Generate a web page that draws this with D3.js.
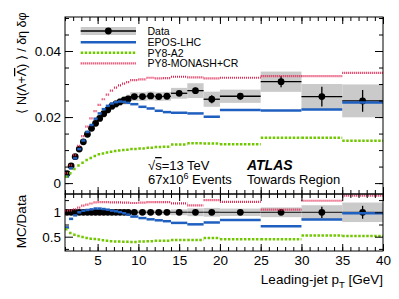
<!DOCTYPE html>
<html>
<head>
<meta charset="utf-8">
<script src="https://cdn.jsdelivr.net/npm/d3@7"></script>
<style>
body { margin: 0; background: #fff; }
text { font-family: "Liberation Sans", Arial, Helvetica, sans-serif; }
</style>
</head>
<body>
<div id="chart"></div>
<script>
// bin edges in leading-jet pT [GeV]
var binEdges = [1, 1.5, 2, 2.5, 3, 3.5, 4, 4.5, 5, 5.5, 6, 6.5, 7, 7.5, 8, 8.5, 9,
  10, 11, 12, 13, 14, 16, 18, 20, 25, 30, 35, 40];

var dataVal = [0.0029, 0.0052, 0.0080, 0.0103, 0.0125, 0.0148, 0.0166, 0.0181, 0.0196, 0.0210,
  0.0222, 0.0233, 0.0240, 0.0246, 0.0251, 0.0255, 0.0262, 0.0262, 0.0264, 0.0262,
  0.0263, 0.0272, 0.0280, 0.0254, 0.0263, 0.0307, 0.0262, 0.0249];
var dataStat = [0.0001, 0.0001, 0.0001, 0.0001, 0.0001, 0.0001, 0.0001, 0.0001, 0.0002, 0.0002,
  0.0002, 0.0002, 0.0002, 0.0002, 0.0002, 0.0003, 0.0003, 0.0004, 0.0004, 0.0005,
  0.0005, 0.0007, 0.0009, 0.0012, 0.0010, 0.0017, 0.0030, 0.0033];
var dataSysRel = [0.05, 0.05, 0.05, 0.05, 0.05, 0.05, 0.05, 0.05, 0.05, 0.05,
  0.05, 0.05, 0.05, 0.05, 0.05, 0.05, 0.05, 0.05, 0.05, 0.05,
  0.05, 0.06, 0.08, 0.09, 0.076, 0.10, 0.145, 0.20];

var eposVal = [0.0020, 0.0045, 0.0075, 0.0103, 0.0129, 0.0155, 0.0176, 0.0195, 0.0211, 0.0224,
  0.0234, 0.0241, 0.0245, 0.0247, 0.0246, 0.0243, 0.0239, 0.0231, 0.0226, 0.0219,
  0.0215, 0.0213, 0.0211, 0.0201, 0.0221, 0.0220, 0.0223, 0.0244];
var a2Val = [0.0019, 0.0030, 0.0043, 0.0053, 0.0062, 0.0070, 0.0076, 0.0082, 0.0087, 0.0090,
  0.0093, 0.0095, 0.0097, 0.0099, 0.0100, 0.0101, 0.0103, 0.0105, 0.0107, 0.0109,
  0.0110, 0.0117, 0.0121, 0.0120, 0.0118, 0.0137, 0.0137, 0.0128];
var monashVal = [0.0030, 0.0054, 0.0085, 0.0113, 0.0142, 0.0171, 0.0196, 0.0218, 0.0237, 0.0254,
  0.0268, 0.0280, 0.0289, 0.0296, 0.0301, 0.0306, 0.0312, 0.0314, 0.0319, 0.0317,
  0.0318, 0.0322, 0.0320, 0.0317, 0.0319, 0.0324, 0.0324, 0.0334];

var xMajor = [5, 10, 15, 20, 25, 30, 35, 40];
var yMajor = [0, 0.02, 0.04];
var rMajor = [0.5, 1];

var legendNames = ['Data', 'EPOS-LHC', 'PY8-A2', 'PY8-MONASH+CR'];

var width = 399, height = 299;
var left = 65, right = 383, mainTop = 17, mainBot = 194, ratBot = 251;

var svg = d3.select('#chart').append('svg')
  .attr('width', width).attr('height', height);

var x = d3.scaleLinear().domain([1, 40]).range([left, right]);
var y = d3.scaleLinear().domain([-0.0033, 0.0503]).range([mainBot, mainTop]);
var yr = d3.scaleLinear().domain([0.207, 1.375]).range([ratBot, mainBot]);

var bins = dataVal.map(function (v, i) {
  return {
    lo: binEdges[i], hi: binEdges[i + 1], mid: (binEdges[i] + binEdges[i + 1]) / 2,
    v: v, stat: dataStat[i], sys: dataSysRel[i] * v, sysRel: dataSysRel[i],
    epos: eposVal[i], a2: a2Val[i], monash: monashVal[i]
  };
});

var series = [
  { key: 'epos', color: '#1f5fbf', width: 2.5, dash: null },
  { key: 'a2', color: '#72c800', width: 2.5, dash: '2.5,1.5' },
  { key: 'monash', color: '#e0204e', width: 2.2, dash: '1,1' }
];

svg.append('clipPath').attr('id', 'clipMain').append('rect')
  .attr('x', left).attr('y', mainTop).attr('width', right - left).attr('height', mainBot - mainTop);
svg.append('clipPath').attr('id', 'clipRat').append('rect')
  .attr('x', left).attr('y', mainBot).attr('width', right - left).attr('height', ratBot - mainBot);

// ---------- main panel ----------
var main = svg.append('g').attr('clip-path', 'url(#clipMain)');

main.append('g').selectAll('rect').data(bins).join('rect')
  .attr('x', d => x(d.lo)).attr('width', d => x(d.hi) - x(d.lo))
  .attr('y', d => y(d.v + d.sys)).attr('height', d => y(d.v - d.sys) - y(d.v + d.sys))
  .attr('fill', '#cacaca');

main.append('g').attr('stroke', '#000').attr('stroke-width', 1.3)
  .selectAll('line').data(bins).join('line')
  .attr('x1', d => x(d.lo)).attr('x2', d => x(d.hi))
  .attr('y1', d => y(d.v)).attr('y2', d => y(d.v));
main.append('g').attr('stroke', '#000').attr('stroke-width', 1.3)
  .selectAll('line').data(bins).join('line')
  .attr('x1', d => x(d.mid)).attr('x2', d => x(d.mid))
  .attr('y1', d => y(d.v - d.stat)).attr('y2', d => y(d.v + d.stat));
main.append('g').selectAll('circle').data(bins).join('circle')
  .attr('cx', d => x(d.mid)).attr('cy', d => y(d.v)).attr('r', 3.4).attr('fill', '#000');

series.forEach(function (s) {
  main.append('g').attr('stroke', s.color).attr('stroke-width', s.width)
    .attr('stroke-dasharray', s.dash)
    .selectAll('line').data(bins).join('line')
    .attr('x1', d => x(d.lo)).attr('x2', d => x(d.hi))
    .attr('y1', d => y(d[s.key])).attr('y2', d => y(d[s.key]));
});

// ---------- ratio panel ----------
var rat = svg.append('g').attr('clip-path', 'url(#clipRat)');

rat.append('g').selectAll('rect').data(bins).join('rect')
  .attr('x', d => x(d.lo)).attr('width', d => x(d.hi) - x(d.lo))
  .attr('y', d => yr(1 + d.sysRel)).attr('height', d => yr(1 - d.sysRel) - yr(1 + d.sysRel))
  .attr('fill', '#cacaca');
rat.append('g').attr('stroke', '#333').attr('stroke-width', 1.3)
  .selectAll('line').data(bins).join('line')
  .attr('x1', d => x(d.lo)).attr('x2', d => x(d.hi))
  .attr('y1', yr(1)).attr('y2', yr(1));
rat.append('g').attr('stroke', '#000').attr('stroke-width', 1.3)
  .selectAll('line').data(bins).join('line')
  .attr('x1', d => x(d.mid)).attr('x2', d => x(d.mid))
  .attr('y1', d => yr(1 - d.stat / d.v)).attr('y2', d => yr(1 + d.stat / d.v));
rat.append('g').selectAll('circle').data(bins).join('circle')
  .attr('cx', d => x(d.mid)).attr('cy', yr(1)).attr('r', 3.4).attr('fill', '#000');

series.forEach(function (s) {
  rat.append('g').attr('stroke', s.color).attr('stroke-width', s.width)
    .attr('stroke-dasharray', s.dash)
    .selectAll('line').data(bins).join('line')
    .attr('x1', d => x(d.lo)).attr('x2', d => x(d.hi))
    .attr('y1', d => yr(d[s.key] / d.v)).attr('y2', d => yr(d[s.key] / d.v));
});

// ---------- axes (ROOT style, ticks inside on all sides) ----------
function tickAxis(axis, scale, values, size, labels) {
  return axis(scale).tickValues(values).tickSize(size).tickPadding(4)
    .tickFormat(labels ? labels : () => '');
}
function frameAxes(yScale, top, bot, yMaj, yMin, yFmt, xLabels) {
  var xMin = d3.range(1, 41);
  svg.append('g').attr('transform', `translate(0,${bot})`).call(tickAxis(d3.axisBottom, x, xMin, -4));
  svg.append('g').attr('transform', `translate(0,${bot})`).call(tickAxis(d3.axisBottom, x, xMajor, -7, xLabels ? d3.format('d') : null));
  svg.append('g').attr('transform', `translate(0,${top})`).call(tickAxis(d3.axisTop, x, xMin, -4));
  svg.append('g').attr('transform', `translate(0,${top})`).call(tickAxis(d3.axisTop, x, xMajor, -7));
  svg.append('g').attr('transform', `translate(${left},0)`).call(tickAxis(d3.axisLeft, yScale, yMin, -4));
  svg.append('g').attr('transform', `translate(${left},0)`).call(tickAxis(d3.axisLeft, yScale, yMaj, -8, yFmt));
  svg.append('g').attr('transform', `translate(${right},0)`).call(tickAxis(d3.axisRight, yScale, yMin, -4));
  svg.append('g').attr('transform', `translate(${right},0)`).call(tickAxis(d3.axisRight, yScale, yMaj, -8));
  svg.append('rect').attr('x', left).attr('y', top).attr('width', right - left).attr('height', bot - top)
    .attr('fill', 'none').attr('stroke', '#000').attr('stroke-width', 1);
}
frameAxes(y, mainTop, mainBot, yMajor, d3.range(0, 0.0501, 0.005), d => d === 0 ? '0' : d3.format('.2f')(d), false);
frameAxes(yr, mainBot, ratBot, rMajor, [0.25, 0.75, 1.25], d => d === 1 ? '1' : d3.format('.1f')(d), true);

svg.selectAll('.domain').remove();
svg.selectAll('.tick line').attr('stroke', '#000');
svg.selectAll('.tick text').attr('font-size', '13.5px').attr('fill', '#000')
  .style('font-family', '"Liberation Sans", Arial, sans-serif');

// ---------- axis titles ----------
var ylab = svg.append('text')
  .attr('transform', 'translate(26,63) rotate(-90)')
  .attr('text-anchor', 'middle').attr('font-size', '12.5px');
ylab.append('tspan').text('\u27E8 N(\u039B+');
ylab.append('tspan').attr('text-decoration', 'overline').text('\u039B');
ylab.append('tspan').text(') \u27E9 / \u03B4\u03B7 \u03B4\u03C6');

svg.append('text')
  .attr('transform', 'translate(25.5,221.5) rotate(-90)')
  .attr('text-anchor', 'middle').attr('font-size', '13.5px').text('MC/Data');

var xlab = svg.append('text').attr('x', right).attr('y', 284)
  .attr('text-anchor', 'end').attr('font-size', '13.5px');
xlab.append('tspan').text('Leading-jet p');
xlab.append('tspan').attr('font-size', '9.5px').attr('dy', 4).text('T');
xlab.append('tspan').attr('dy', -4).text(' [GeV]');

// ---------- legend ----------
var legY = [31, 42.3, 52.7, 63.3];
var lg = svg.append('g');
lg.append('rect').attr('x', 80.7).attr('y', legY[0] - 4).attr('width', 55.3).attr('height', 8).attr('fill', '#cacaca');
lg.append('line').attr('x1', 80.7).attr('x2', 136).attr('y1', legY[0]).attr('y2', legY[0])
  .attr('stroke', '#000').attr('stroke-width', 1.3);
lg.append('circle').attr('cx', 108.3).attr('cy', legY[0]).attr('r', 3.4).attr('fill', '#000');
series.forEach(function (s, i) {
  lg.append('line').attr('x1', 80.7).attr('x2', 136).attr('y1', legY[i + 1]).attr('y2', legY[i + 1])
    .attr('stroke', s.color).attr('stroke-width', s.width).attr('stroke-dasharray', s.dash);
});
lg.selectAll('text').data(legendNames).join('text')
  .attr('x', 147.5).attr('y', (d, i) => legY[i] + 3.8)
  .attr('font-size', '10.5px').text(d => d);

// ---------- labels ----------
var t1 = svg.append('text').attr('x', 148).attr('y', 170).attr('font-size', '13px');
t1.append('tspan').text('\u221A');
t1.append('tspan').attr('text-decoration', 'overline').text('s');
t1.append('tspan').text('=13 TeV');

var t2 = svg.append('text').attr('x', 148).attr('y', 183.5).attr('font-size', '13px');
t2.append('tspan').text('67x10');
t2.append('tspan').attr('font-size', '9px').attr('dy', -5).text('6');
t2.append('tspan').attr('dy', 5).text(' Events');

svg.append('text').attr('x', 247).attr('y', 170).attr('font-size', '14px')
  .attr('font-weight', 'bold').attr('font-style', 'italic').text('ATLAS');
svg.append('text').attr('x', 247).attr('y', 183.5).attr('font-size', '13px').text('Towards Region');
</script>
</body>
</html>
